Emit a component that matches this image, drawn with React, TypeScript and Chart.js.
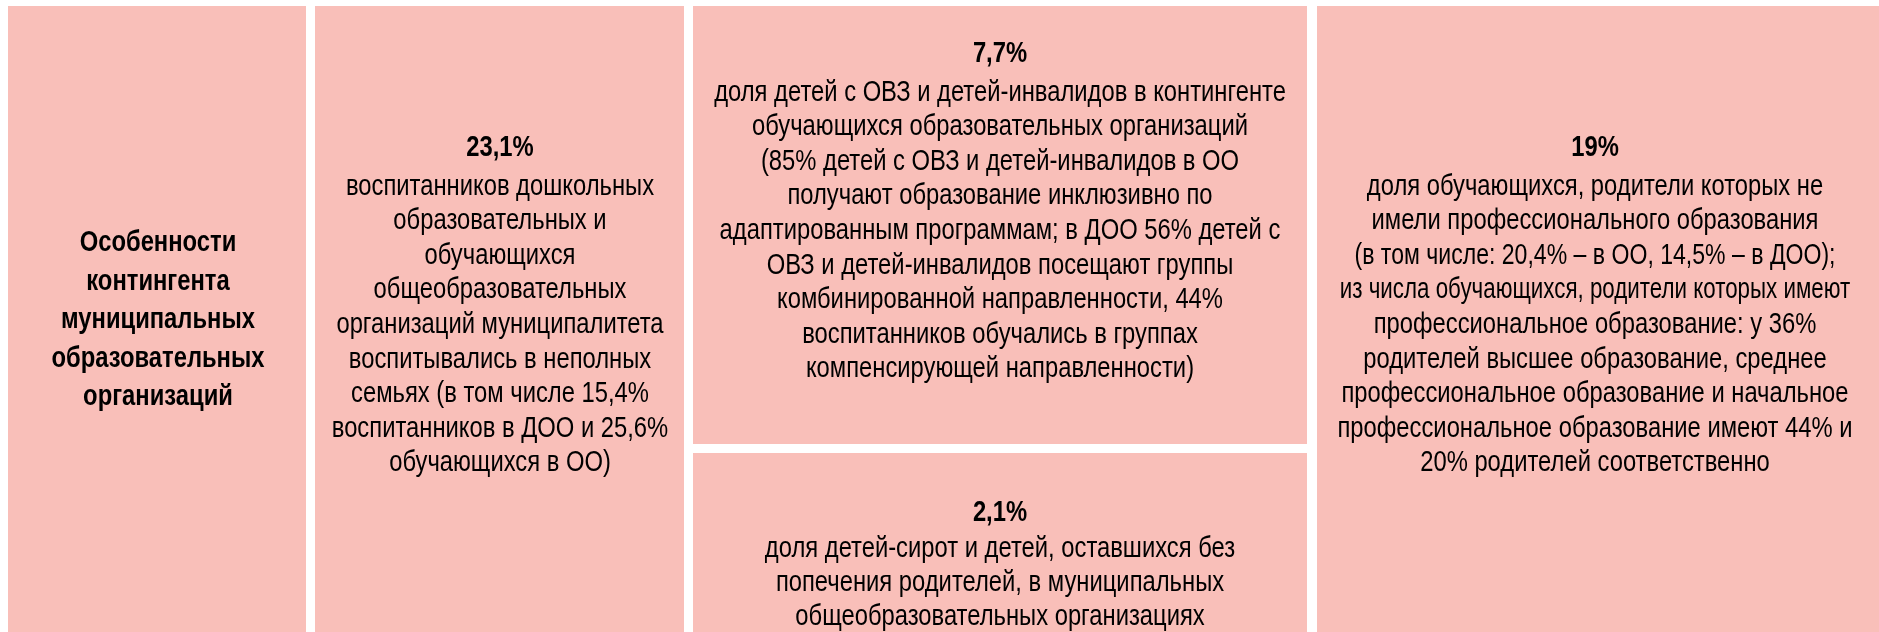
import React, { useEffect, useRef } from "react";
import { Chart, registerables } from "chart.js";

Chart.register(...registerables);

// ---- content ----
const titleLines = [
  "Особенности",
  "контингента",
  "муниципальных",
  "образовательных",
  "организаций",
];

const headlineValues = ["23,1%", "7,7%", "2,1%", "19%"];

const lines231 = [
  "воспитанников дошкольных",
  "образовательных и",
  "обучающихся",
  "общеобразовательных",
  "организаций муниципалитета",
  "воспитывались в неполных",
  "семьях (в том числе 15,4%",
  "воспитанников в ДОО и 25,6%",
  "обучающихся в ОО)",
];

const lines77 = [
  "доля детей с ОВЗ и детей-инвалидов в контингенте",
  "обучающихся образовательных организаций",
  "(85% детей с ОВЗ и детей-инвалидов в ОО",
  "получают образование инклюзивно по",
  "адаптированным программам; в ДОО 56% детей с",
  "ОВЗ и детей-инвалидов посещают группы",
  "комбинированной направленности, 44%",
  "воспитанников обучались в группах",
  "компенсирующей направленности)",
];

const lines21 = [
  "доля детей-сирот и детей, оставшихся без",
  "попечения родителей, в муниципальных",
  "общеобразовательных организациях",
];

const lines19 = [
  "доля обучающихся, родители которых не",
  "имели профессионального образования",
  "(в том числе: 20,4% – в ОО, 14,5% – в ДОО);",
  "из числа обучающихся, родители которых имеют",
  "профессиональное образование: у 36%",
  "родителей высшее образование, среднее",
  "профессиональное образование и начальное",
  "профессиональное образование имеют 44% и",
  "20% родителей соответственно",
];

// ---- layout (page units == scale units) ----
const PAGE_W = 1879;
const PAGE_H = 632;
const FILL = "#F9BFB9";
const INK = "#000000";
const FONT = "'Liberation Sans', Arial, sans-serif";
const FS = 29;
const NARROW = 0.82; // emulate a condensed face
const LH = 34.6;
const HEAD_GAP = 39.5;

type Panel = {
  x0: number; x1: number; y0: number; y1: number;
  cx: number; headY?: number; head?: string; bodyY: number; body: string[]; bold?: boolean; lh: number;
  squeeze?: Record<number, number>;
};

const panels: Panel[] = [
  { x0: 8, x1: 306, y0: 6, y1: 640, cx: 158, bodyY: 243, body: titleLines, bold: true, lh: 38.5 },
  { x0: 315, x1: 684, y0: 6, y1: 640, cx: 500, headY: 147, head: headlineValues[0], bodyY: 147 + HEAD_GAP, body: lines231, lh: LH },
  { x0: 693, x1: 1307, y0: 6, y1: 444, cx: 1000, headY: 53, head: headlineValues[1], bodyY: 53 + HEAD_GAP, body: lines77, lh: LH },
  { x0: 693, x1: 1307, y0: 453, y1: 640, cx: 1000, headY: 512, head: headlineValues[2], bodyY: 549, body: lines21, lh: 34 },
  { x0: 1317, x1: 1885, y0: 6, y1: 640, cx: 1595, headY: 147, head: headlineValues[3], bodyY: 147 + HEAD_GAP, body: lines19, lh: LH, squeeze: { 2: 0.97, 3: 0.94 } },
];

function drawLine(ctx: CanvasRenderingContext2D, text: string, x: number, y: number, sx: number) {
  ctx.save();
  ctx.translate(x, y);
  ctx.scale(sx, 1);
  ctx.fillText(text, 0, 0);
  ctx.restore();
}

const panelPlugin = {
  id: "panels",
  beforeDatasetsDraw(chart: any) {
    const { ctx, scales } = chart;
    const xs = scales.x;
    const ys = scales.y;
    ctx.save();
    for (const p of panels) {
      const left = xs.getPixelForValue(p.x0);
      const right = xs.getPixelForValue(p.x1);
      const top = ys.getPixelForValue(p.y0);
      const bottom = ys.getPixelForValue(p.y1);
      ctx.fillStyle = FILL;
      ctx.fillRect(left, top, right - left, bottom - top);
      ctx.fillStyle = INK;
      ctx.textAlign = "center";
      ctx.textBaseline = "alphabetic";
      const cx = xs.getPixelForValue(p.cx);
      if (p.head && p.headY !== undefined) {
        ctx.font = `bold ${FS}px ${FONT}`;
        drawLine(ctx, p.head, cx, ys.getPixelForValue(p.headY + 9), NARROW);
      }
      ctx.font = `${p.bold ? "bold " : ""}${FS}px ${FONT}`;
      p.body.forEach((t, i) => {
        const k = p.squeeze && p.squeeze[i] ? p.squeeze[i] : 1;
        drawLine(ctx, t, cx, ys.getPixelForValue(p.bodyY + i * p.lh + 8), NARROW * k);
      });
    }
    ctx.restore();
  },
};

export default function App() {
  const ref = useRef<HTMLCanvasElement | null>(null);
  useEffect(() => {
    if (!ref.current) return;
    const chart = new Chart(ref.current, {
      type: "scatter",
      data: { datasets: [{ data: [], pointRadius: 0 }] },
      options: {
        animation: false,
        responsive: false,
        devicePixelRatio: 1,
        layout: { padding: 0 },
        plugins: { legend: { display: false }, tooltip: { enabled: false } },
        scales: {
          x: { type: "linear", min: 0, max: PAGE_W, display: false },
          y: { type: "linear", min: 0, max: PAGE_H, reverse: true, display: false },
        },
      },
      plugins: [panelPlugin],
    });
    return () => chart.destroy();
  }, []);
  return (
    <div style={{ position: "absolute", left: 0, top: 0, width: PAGE_W, height: PAGE_H, background: "#fff" }}>
      <canvas ref={ref} width={PAGE_W} height={PAGE_H} style={{ display: "block" }} />
    </div>
  );
}
